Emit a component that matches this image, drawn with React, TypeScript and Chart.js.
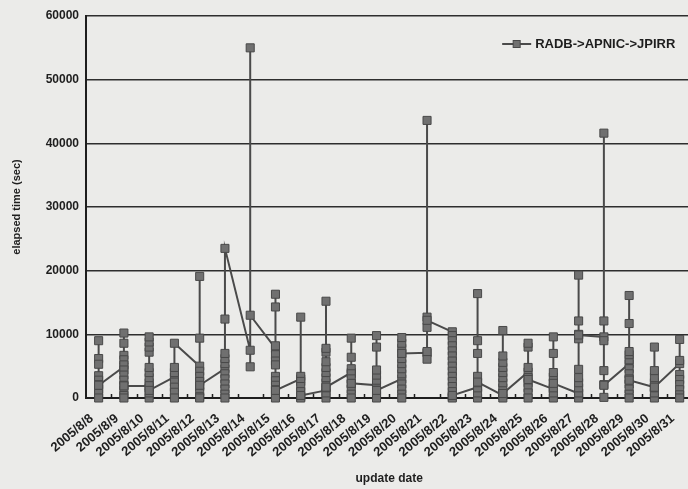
import React, { useEffect, useRef } from "react";
import { Chart, registerables } from "chart.js";

Chart.register(...registerables);

const dates = [
  "2005/8/8", "2005/8/9", "2005/8/10", "2005/8/11", "2005/8/12", "2005/8/13",
  "2005/8/14", "2005/8/15", "2005/8/16", "2005/8/17", "2005/8/18", "2005/8/19",
  "2005/8/20", "2005/8/21", "2005/8/22", "2005/8/23", "2005/8/24", "2005/8/25",
  "2005/8/26", "2005/8/27", "2005/8/28", "2005/8/29", "2005/8/30", "2005/8/31",
];

// elapsed time (sec) of each update, in the order they were plotted, per day
const d08 = [9000, 6200, 5300, 3500, 2800, 2100, 1400, 700, 0, 2000];
const d09 = [4900, 6700, 8600, 10200, 6000, 5200, 4400, 3600, 2800, 2000, 1200, 400, 0, 1900];
const d10 = [1900, 0, 800, 1600, 2400, 3200, 4000, 4800, 7200, 8000, 8800, 9600, 1200];
const d11 = [3300, 2500, 1700, 900, 0, 4000, 4800, 8600];
const d12 = [5000, 4200, 3400, 2600, 1800, 1000, 200, 0, 9400, 19100, 2000];
const d13 = [4600, 3800, 3000, 2200, 1400, 600, 0, 5400, 6200, 7000, 12400, 23500];
const d14 = [7500, 4900, 55000, 13000];
const d15 = [7800, 8200, 16300, 14300, 6800, 5800, 5200, 3400, 2700, 2000, 1300, 600, 0, 1200];
const d16 = [3000, 3400, 12700, 2600, 1800, 1000, 200, 0, 400];
const d17 = [1200, 0, 800, 1600, 2400, 3200, 4000, 4800, 5700, 7200, 7800, 15200, 1700];
const d18 = [4000, 4600, 6400, 9400, 3800, 3000, 2200, 1400, 600, 0, 2300];
const d19 = [2000, 1200, 400, 0, 2800, 3600, 4400, 8000, 9800, 1200];
const d20 = [3000, 2200, 1400, 600, 0, 3800, 4600, 5400, 6200, 7000, 7800, 8600, 9500, 7000];
const d21 = [7100, 6100, 7300, 11100, 12700, 43600, 12200];
const d22 = [10400, 9800, 9000, 8200, 7400, 6600, 5800, 5000, 4200, 3400, 2600, 1800, 1000, 200, 0, 400];
const d23 = [1700, 0, 800, 1600, 2400, 3400, 7000, 9000, 16400, 2500];
const d24 = [400, 0, 800, 1600, 2400, 3200, 4000, 4800, 5600, 6600, 10600, 700];
const d25 = [4100, 4800, 8000, 8600, 3200, 2400, 1600, 800, 0, 2900];
const d26 = [1400, 0, 800, 1600, 2400, 3300, 4000, 7000, 9600, 2300];
const d27 = [700, 0, 800, 1600, 2400, 3200, 4500, 9300, 10000, 12100, 19300, 9900];
const d28 = [9600, 9000, 12100, 41600, 4300, 2100, 100, 2000];
const d29 = [5400, 6000, 6800, 7300, 11700, 16100, 4600, 3800, 3000, 2200, 1400, 600, 0, 2800];
const d30 = [1700, 0, 800, 1600, 2400, 3200, 4300, 8000, 1700];
const d31 = [5400, 5900, 9200, 3700, 2900, 2100, 1300, 500, 0];

const dayValues = [
  d08, d09, d10, d11, d12, d13, d14, d15, d16, d17, d18, d19,
  d20, d21, d22, d23, d24, d25, d26, d27, d28, d29, d30, d31,
];

const yMin = 0;
const yMax = 60000;
const yStep = 10000;

const seriesName = "RADB->APNIC->JPIRR";
const xTitle = "update date";
const yTitle = "elapsed time (sec)";

const FONT = "'Liberation Sans', Arial, sans-serif";
const PAPER = "#ebebe9";
const INK = "#1e1e1e";
const LINE = "#4a4a4a";
const MARK_FILL = "#707070";
const MARK_EDGE = "#484848";

const CANVAS_W = 699;
const CANVAS_H = 489;

const paperPlugin = {
  id: "paper",
  beforeDraw(chart: any) {
    const { ctx, width, height } = chart;
    ctx.save();
    ctx.fillStyle = PAPER;
    ctx.fillRect(0, 0, width, height);
    ctx.restore();
  },
};

const innerTicksPlugin = {
  id: "innerTicks",
  afterDatasetsDraw(chart: any) {
    const xs = chart.scales.x;
    const { ctx, chartArea } = chart;
    const n = xs.getLabels().length;
    const half = (xs.getPixelForValue(1) - xs.getPixelForValue(0)) / 2;
    ctx.save();
    ctx.strokeStyle = INK;
    ctx.lineWidth = 1.5;
    ctx.beginPath();
    for (let i = 1; i < n; i++) {
      const x = Math.round(xs.getPixelForValue(i) - half) + 0.5;
      ctx.moveTo(x, chartArea.bottom);
      ctx.lineTo(x, chartArea.bottom - 4);
    }
    ctx.stroke();
    ctx.restore();
  },
};

const legendPlugin = {
  id: "insideLegend",
  afterDraw(chart: any) {
    const { ctx, chartArea } = chart;
    ctx.save();
    ctx.font = `bold 13px ${FONT}`;
    ctx.fillStyle = INK;
    ctx.textAlign = "right";
    ctx.textBaseline = "middle";
    const textRight = chartArea.right - 17;
    const y = chartArea.top + 28;
    ctx.fillText(seriesName, textRight, y);
    const w = ctx.measureText(seriesName).width;
    const lineRight = textRight - w - 4;
    const lineLeft = lineRight - 29;
    ctx.strokeStyle = LINE;
    ctx.lineWidth = 2;
    ctx.beginPath();
    ctx.moveTo(lineLeft, y);
    ctx.lineTo(lineRight, y);
    ctx.stroke();
    const mx = (lineLeft + lineRight) / 2;
    ctx.fillStyle = MARK_FILL;
    ctx.strokeStyle = MARK_EDGE;
    ctx.lineWidth = 1;
    ctx.fillRect(mx - 3.5, y - 3.5, 7, 7);
    ctx.strokeRect(mx - 3.5, y - 3.5, 7, 7);
    ctx.restore();
  },
};

export default function App() {
  const ref = useRef<HTMLCanvasElement | null>(null);

  useEffect(() => {
    if (!ref.current) return;
    const points = dayValues.flatMap((vals, i) =>
      vals.map((v) => ({ x: dates[i], y: v }))
    );
    const chart = new Chart(ref.current, {
      type: "line",
      data: {
        labels: dates,
        datasets: [
          {
            label: seriesName,
            data: points as any,
            borderColor: LINE,
            borderWidth: 2,
            tension: 0,
            pointStyle: "rect",
            pointRadius: 5.7,
            pointBorderWidth: 1,
            pointBackgroundColor: MARK_FILL,
            pointBorderColor: MARK_EDGE,
            clip: false as any,
          },
        ],
      },
      options: {
        animation: false,
        responsive: false,
        maintainAspectRatio: false,
        layout: { padding: { left: 6, top: 16, right: 0, bottom: 0 } },
        plugins: {
          legend: { display: false },
          tooltip: { enabled: false },
        },
        scales: {
          x: {
            type: "category",
            offset: true,
            grid: { display: false, drawTicks: false },
            border: { display: true, color: INK, width: 2 },
            ticks: {
              autoSkip: false,
              maxRotation: 40,
              minRotation: 40,
              padding: 13,
              labelOffset: -7,
              color: INK,
              font: { family: FONT, size: 13, weight: "bold" },
            },
            title: {
              display: true,
              text: xTitle,
              color: INK,
              font: { family: FONT, size: 12, weight: "bold" },
              padding: { top: 4, bottom: 3 },
            },
            afterFit: (s: any) => {
              s.height = 91;
              s.paddingRight = 0;
              s.paddingLeft = 0;
            },
          },
          y: {
            min: yMin,
            max: yMax,
            grid: { color: "#2e2e2e", lineWidth: 1.5, drawTicks: false },
            border: { display: true, color: INK, width: 2 },
            ticks: {
              stepSize: yStep,
              padding: 7,
              color: INK,
              font: { family: FONT, size: 12, weight: "bold" },
              callback: (v: any) => String(v),
            },
            title: {
              display: true,
              text: yTitle,
              color: INK,
              font: { family: FONT, size: 11, weight: "bold" },
              padding: { top: 4, bottom: 4 },
            },
            afterFit: (s: any) => {
              s.width = 80;
            },
          },
        },
      },
      plugins: [paperPlugin, innerTicksPlugin, legendPlugin],
    });
    return () => chart.destroy();
  }, []);

  return (
    <div
      style={{
        position: "fixed",
        left: 0,
        top: 0,
        width: CANVAS_W,
        height: CANVAS_H,
        background: PAPER,
      }}
    >
      <canvas ref={ref} width={CANVAS_W} height={CANVAS_H} style={{ display: "block" }} />
    </div>
  );
}
